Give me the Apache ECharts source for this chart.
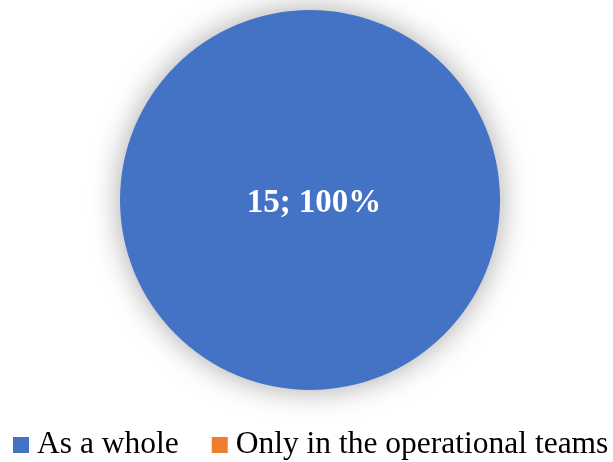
<!DOCTYPE html>
<html>
<head>
<meta charset="utf-8">
<script src="https://cdn.jsdelivr.net/npm/echarts@6/dist/echarts.min.js"></script>
<style>
  html, body { margin: 0; padding: 0; background: #fff; }
  #chart { width: 613px; height: 462px; }
</style>
</head>
<body>
<div id="chart"></div>
<script>
const categories = ['As a whole', 'Only in the operational teams'];
const values = [15, 0];
const colors = ['#4472C4', '#ED7D31'];

const myChart = echarts.init(document.getElementById('chart'));
const option = {
  animation: false,
  color: colors,
  legend: {
    left: 13,
    top: 429,
    width: 700,   // keep both items on one row
    padding: 0,
    icon: 'rect',
    itemWidth: 16,
    itemHeight: 16,
    itemGap: 33,
    selectedMode: false,
    textStyle: {
      fontFamily: 'Liberation Serif',
      fontSize: 31.5,
      color: '#000',
      padding: [0, 0, 0, 3]
    },
    data: categories
  },
  series: [{
    type: 'pie',
    center: [310, 200],
    radius: 190,
    startAngle: 90,
    minAngle: 0,
    data: categories.map((name, i) => ({ name: name, value: values[i] })),
    itemStyle: {
      shadowBlur: 30,
      shadowColor: 'rgba(0,0,0,0.35)',
      shadowOffsetX: 0,
      shadowOffsetY: 0
    },
    label: {
      position: 'center',
      offset: [4, 3],
      fontFamily: 'Liberation Serif',
      fontWeight: 'bold',
      fontSize: 33,
      color: '#fff',
      // the empty slice gets no label
      formatter: p => p.value > 0 ? p.value + '; ' + Math.round(p.percent) + '%' : ''
    },
    labelLine: { show: false },
    emphasis: { disabled: true }
  }]
};
myChart.setOption(option);
</script>
</body>
</html>
